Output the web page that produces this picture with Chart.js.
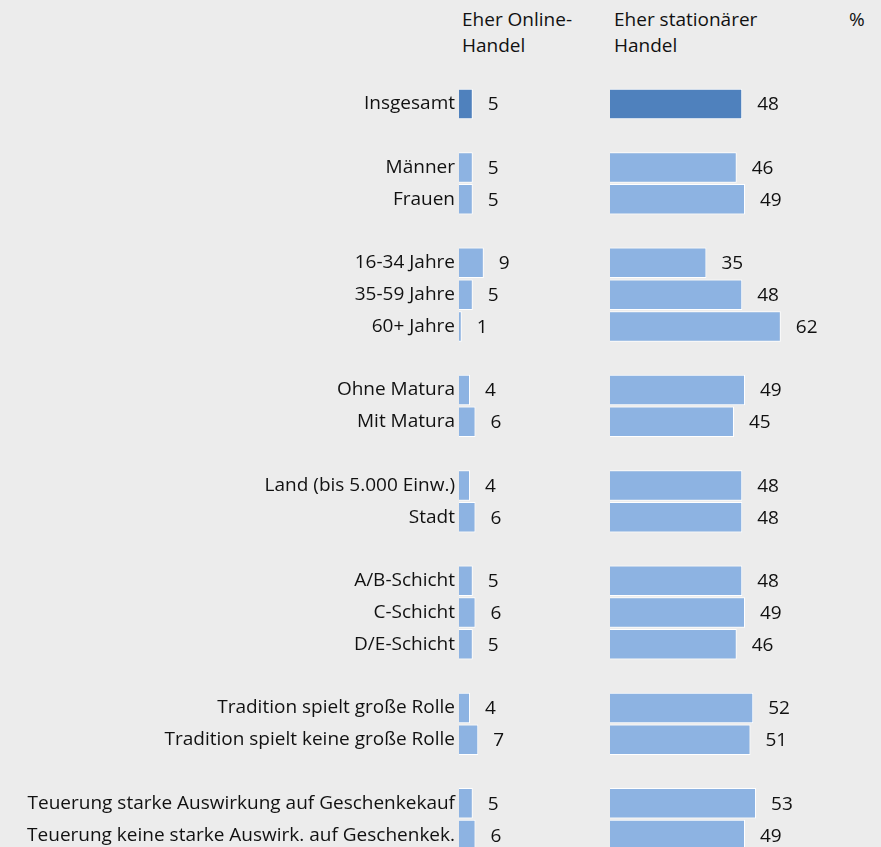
<!DOCTYPE html>
<html>
<head>
<meta charset="utf-8">
<script src="https://cdn.jsdelivr.net/npm/chart.js@4"></script>
<style>
    html, body { margin: 0; padding: 0; background: #ececec; overflow: hidden; }
    body { width: 881px; height: 847px; position: relative; font-family: 'Open Sans', sans-serif; }
    .head { position: absolute; top: 6px; font-size: 19px; line-height: 26px; color: #111; white-space: nowrap; }
    #leftWrap { position: absolute; left: 0; top: 0; width: 600px; height: 880px; }
    #rightWrap { position: absolute; left: 610px; top: 0; width: 271px; height: 880px; }
</style>
</head>
<body>
<div class="head" style="left:462px">Eher Online-<br>Handel</div>
<div class="head" style="left:614px">Eher stationärer<br>Handel</div>
<div class="head" style="left:849px">%</div>
<div id="leftWrap"><canvas id="leftChart"></canvas></div>
<div id="rightWrap"><canvas id="rightChart"></canvas></div>
<script>
// Categories (empty strings are spacer rows)
const categories = [
    'Insgesamt', '',
    'Männer', 'Frauen', '',
    '16-34 Jahre', '35-59 Jahre', '60+ Jahre', '',
    'Ohne Matura', 'Mit Matura', '',
    'Land (bis 5.000 Einw.)', 'Stadt', '',
    'A/B-Schicht', 'C-Schicht', 'D/E-Schicht', '',
    'Tradition spielt große Rolle', 'Tradition spielt keine große Rolle', '',
    'Teuerung starke Auswirkung auf Geschenkekauf', 'Teuerung keine starke Auswirk. auf Geschenkek.'
];

// Eher Online-Handel (%)
const onlineValues = [5, null, 5, 5, null, 9, 5, 1, null, 4, 6, null, 4, 6, null, 5, 6, 5, null, 4, 7, null, 5, 6];

// Eher stationärer Handel (%)
const stationaerValues = [48, null, 46, 49, null, 35, 48, 62, null, 49, 45, null, 48, 48, null, 48, 49, 46, null, 52, 51, null, 53, 49];

const DARK = '#4f81bd';
const LIGHT = '#8db3e2';
const FONT = { family: 'Open Sans', size: 19 };
const PX_PER_UNIT = 2.755;

function barColors(values) {
    return values.map((v, i) => i === 0 ? DARK : LIGHT);
}

// Draw the value next to the end of each bar
const valueLabels = {
    id: 'valueLabels',
    afterDatasetsDraw(chart) {
        const ctx = chart.ctx;
        ctx.save();
        ctx.font = FONT.size + 'px ' + FONT.family;
        ctx.fillStyle = '#111';
        ctx.textAlign = 'left';
        ctx.textBaseline = 'middle';
        chart.getDatasetMeta(0).data.forEach((bar, i) => {
            const v = chart.data.datasets[0].data[i];
            if (v === null) return;
            ctx.fillText(String(v), bar.x + 15, bar.y + 1);
        });
        ctx.restore();
    }
};

function makeChart(canvasId, values, xMax, showLabels) {
    return new Chart(document.getElementById(canvasId), {
        type: 'bar',
        data: {
            labels: categories,
            datasets: [{
                data: values,
                backgroundColor: barColors(values),
                borderColor: '#ffffff',
                borderWidth: 1,
                barPercentage: 1,
                categoryPercentage: 0.96
            }]
        },
        options: {
            indexAxis: 'y',
            responsive: true,
            maintainAspectRatio: false,
            animation: false,
            layout: { padding: { top: 88, bottom: 29, left: 0, right: 0 } },
            plugins: {
                legend: { display: false },
                tooltip: { enabled: false }
            },
            scales: {
                x: {
                    display: false,
                    min: 0,
                    max: xMax
                },
                y: {
                    display: showLabels,
                    grid: { display: false, drawTicks: false },
                    border: { display: false },
                    ticks: {
                        autoSkip: false,
                        color: '#111',
                        font: FONT,
                        padding: 4
                    },
                    afterFit(scale) {
                        if (showLabels) scale.width = 459;
                    }
                }
            }
        },
        plugins: [valueLabels]
    });
}

makeChart('leftChart', onlineValues, 141 / PX_PER_UNIT, true);
makeChart('rightChart', stationaerValues, 271 / PX_PER_UNIT, false);
</script>
</body>
</html>
